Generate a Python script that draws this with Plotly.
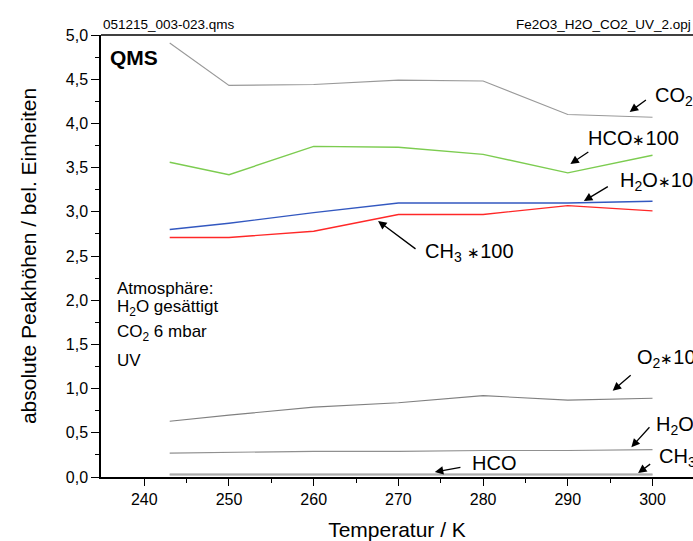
import plotly.graph_objects as go

temperature = [243, 250, 260, 270, 280, 290, 300]
co2 = [4.91, 4.43, 4.44, 4.49, 4.48, 4.10, 4.07]
hco_x100 = [3.56, 3.42, 3.74, 3.73, 3.65, 3.44, 3.64]
h2o_x10 = [2.80, 2.87, 2.99, 3.10, 3.10, 3.10, 3.12]
ch3_x100 = [2.71, 2.71, 2.78, 2.97, 2.97, 3.07, 3.01]
o2_x10 = [0.63, 0.70, 0.79, 0.84, 0.92, 0.87, 0.89]
h2o = [0.27, 0.28, 0.29, 0.29, 0.30, 0.30, 0.31]
hco = [0.03, 0.03, 0.03, 0.03, 0.03, 0.03, 0.03]
ch3 = [0.025, 0.025, 0.025, 0.025, 0.025, 0.025, 0.025]

series = [
    ("CO2", co2, "#999999", 1.1),
    ("HCO*100", hco_x100, "#7ccc50", 1.4),
    ("H2O*10", h2o_x10, "#3358c0", 1.4),
    ("CH3*100", ch3_x100, "#ff2828", 1.4),
    ("O2*10", o2_x10, "#808080", 1.1),
    ("H2O", h2o, "#909090", 1.1),
    ("HCO", hco, "#b8b8b8", 2.0),
    ("CH3", ch3, "#a8a8a8", 1.3),
]

FONT = "Liberation Sans, Arial, sans-serif"
AST = '<span style="font-size:15px">∗</span>'

fig = go.Figure()
for name, vals, col, w in series:
    fig.add_trace(go.Scatter(x=temperature, y=vals, mode="lines", name=name,
                             line=dict(color=col, width=w), showlegend=False,
                             hoverinfo="skip"))

# arrows: (tail_x, tail_y, tip_x, tip_y)
arrows = [
    (299.4, 4.276, 297.3, 4.13),
    (292.6, 3.688, 290.3, 3.541),
    (294.9, 3.295, 291.9, 3.122),
    (272.2, 2.568, 267.6, 2.896),
    (297.6, 1.165, 295.3, 0.976),
    (299.8, 0.580, 297.5, 0.336),
    (277.5, 0.113, 274.3, 0.057),
    (299.9, 0.158, 298.3, 0.045),
]
for tx, ty, hx, hy in arrows:
    fig.add_annotation(x=hx, y=hy, ax=tx, ay=ty, axref="x", ayref="y",
                       xref="x", yref="y", text="", showarrow=True,
                       arrowhead=2, arrowsize=1.3, arrowwidth=1.3,
                       arrowcolor="black", standoff=0, startstandoff=0)

labels = [
    (300.0, 4.30, "CO<sub>2</sub>"),
    (292.2, 3.835, "HCO" + AST + "100"),
    (295.9, 3.348, "H<sub>2</sub>O" + AST + "10"),
    (272.9, 2.534, "CH<sub>3</sub> " + AST + "100"),
    (297.9, 1.346, "O<sub>2</sub>" + AST + "10"),
    (300.2, 0.577, "H<sub>2</sub>O"),
    (300.5, 0.226, "CH<sub>3</sub>"),
    (278.5, 0.158, "HCO"),
]
for lx, ly, t in labels:
    fig.add_annotation(x=lx, y=ly, xref="x", yref="y", text=t, showarrow=False,
                       xanchor="left", yanchor="middle",
                       font=dict(family=FONT, size=20, color="black"))

# info texts
fig.add_annotation(x=0.012, y=0.948, xref="paper", yref="paper", text="<b>QMS</b>",
                   showarrow=False, xanchor="left", yanchor="middle",
                   font=dict(family=FONT, size=21, color="black"))
atmo = ["Atmosphäre:", "H<sub>2</sub>O gesättigt", "CO<sub>2</sub> 6 mbar", "UV"]
atmo_y = [0.427, 0.382, 0.325, 0.264]
for t, yy in zip(atmo, atmo_y):
    fig.add_annotation(x=0.024, y=yy, xref="paper", yref="paper", text=t,
                       showarrow=False, xanchor="left", yanchor="middle",
                       font=dict(family=FONT, size=17, color="black"))

fig.add_annotation(x=0.0, y=1.0, xref="paper", yref="paper", text="051215_003-023.qms",
                   showarrow=False, xanchor="left", yanchor="bottom", yshift=1,
                   font=dict(family=FONT, size=13.5, color="black"))
fig.add_annotation(x=1.0, y=1.0, xref="paper", yref="paper", text="Fe2O3_H2O_CO2_UV_2.opj",
                   showarrow=False, xanchor="right", yanchor="bottom", yshift=1,
                   font=dict(family=FONT, size=13.5, color="black"))

# top frame line
fig.add_shape(type="line", xref="paper", yref="paper", x0=0, x1=1, y0=1, y1=1,
              line=dict(color="black", width=1.5))

fig.update_layout(
    width=693, height=541,
    margin=dict(l=101, r=0, t=35, b=64),
    plot_bgcolor="white", paper_bgcolor="white",
    separators=", ",
    hovermode=False,
    font=dict(family=FONT, color="black"),
    xaxis=dict(range=[234.89, 304.78], tickvals=[240, 250, 260, 270, 280, 290, 300],
               automargin=False,
               ticks="outside", ticklen=7, tickwidth=1.3, tickcolor="black",
               showline=True, linecolor="black", linewidth=1.5, showgrid=False,
               zeroline=False, tickfont=dict(size=16),
               minor=dict(tickvals=[245, 255, 265, 275, 285, 295], ticks="outside",
                          ticklen=4, tickcolor="black", tickwidth=1.2, showgrid=False),
               title=dict(text="Temperatur / K", font=dict(size=21), standoff=20)),
    yaxis=dict(range=[0, 5.0], tickvals=[0, 0.5, 1, 1.5, 2, 2.5, 3, 3.5, 4, 4.5, 5],
               tickformat=".1f", automargin=False,
               ticks="outside", ticklen=8, tickwidth=1.3, tickcolor="black",
               showline=True, linecolor="black", linewidth=1.5, showgrid=False,
               zeroline=False, tickfont=dict(size=16),
               minor=dict(tickvals=[0.25, 0.75, 1.25, 1.75, 2.25, 2.75, 3.25, 3.75, 4.25, 4.75],
                          ticks="outside", ticklen=4, tickcolor="black", tickwidth=1.2,
                          showgrid=False),
               title=dict(text="absolute Peakhöhen / bel. Einheiten", font=dict(size=21),
                          standoff=23)),
)

# remove the default 8px page margin so the figure fills the window exactly
fig.write_html("out.html", config={"displayModeBar": False},
               post_script="document.body.style.margin='0';document.body.style.overflow='hidden';")
